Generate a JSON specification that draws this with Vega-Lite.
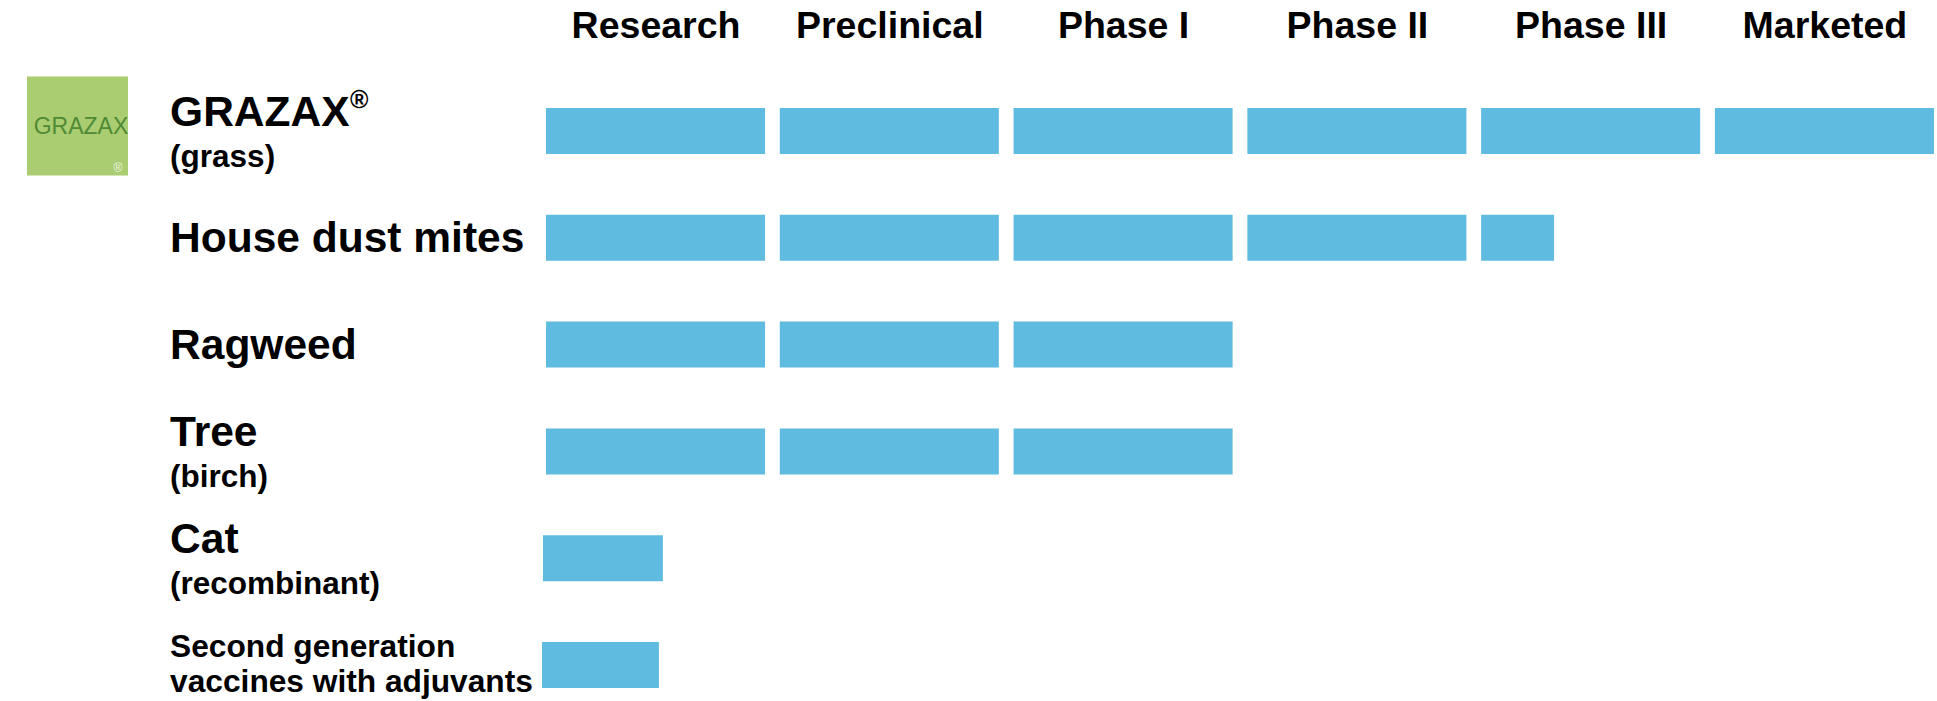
{
  "$schema": "https://vega.github.io/schema/vega-lite/v6.json",
  "width": 1391,
  "height": 534,
  "autosize": {"type": "none"},
  "padding": {"left": 546, "top": 131, "right": 0, "bottom": 36},
  "background": "white",
  "config": {"view": {"stroke": null}, "font": "Liberation Sans"},
  "datasets": {
    "segments": [
      {"product": "GRAZAX", "stage": "Research", "start": 0, "end": 0.937},
      {"product": "GRAZAX", "stage": "Preclinical", "start": 1, "end": 1.937},
      {"product": "GRAZAX", "stage": "Phase I", "start": 2, "end": 2.937},
      {"product": "GRAZAX", "stage": "Phase II", "start": 3, "end": 3.937},
      {"product": "GRAZAX", "stage": "Phase III", "start": 4, "end": 4.937},
      {"product": "GRAZAX", "stage": "Marketed", "start": 5, "end": 5.937},
      {"product": "House dust mites", "stage": "Research", "start": 0, "end": 0.937},
      {"product": "House dust mites", "stage": "Preclinical", "start": 1, "end": 1.937},
      {"product": "House dust mites", "stage": "Phase I", "start": 2, "end": 2.937},
      {"product": "House dust mites", "stage": "Phase II", "start": 3, "end": 3.937},
      {"product": "House dust mites", "stage": "Phase III", "start": 4, "end": 4.312},
      {"product": "Ragweed", "stage": "Research", "start": 0, "end": 0.937},
      {"product": "Ragweed", "stage": "Preclinical", "start": 1, "end": 1.937},
      {"product": "Ragweed", "stage": "Phase I", "start": 2, "end": 2.937},
      {"product": "Tree", "stage": "Research", "start": 0, "end": 0.937},
      {"product": "Tree", "stage": "Preclinical", "start": 1, "end": 1.937},
      {"product": "Tree", "stage": "Phase I", "start": 2, "end": 2.937},
      {"product": "Cat", "stage": "Research", "start": -0.013, "end": 0.5},
      {"product": "Second generation", "stage": "Research", "start": -0.017, "end": 0.483}
    ],
    "products": [
      {"product": "GRAZAX", "kind": "double", "main": "GRAZAX", "sub": "(grass)"},
      {"product": "House dust mites", "kind": "single", "main": "House dust mites", "sub": ""},
      {"product": "Ragweed", "kind": "single", "main": "Ragweed", "sub": ""},
      {"product": "Tree", "kind": "double", "main": "Tree", "sub": "(birch)"},
      {"product": "Cat", "kind": "double", "main": "Cat", "sub": "(recombinant)"},
      {"product": "Second generation", "kind": "stack", "main": "Second generation", "sub": "vaccines with adjuvants"}
    ]
  },
  "layer": [
    {
      "data": {"name": "segments"},
      "mark": {"type": "bar", "color": "#60bbe0", "size": 46},
      "encoding": {
        "x": {
          "field": "start",
          "type": "quantitative",
          "scale": {"domain": [0, 5.95], "nice": false, "zero": false},
          "axis": {
            "orient": "top",
            "title": null,
            "values": [0.4685, 1.4685, 2.4685, 3.4685, 4.4685, 5.4685],
            "labelExpr": "['Research','Preclinical','Phase I','Phase II','Phase III','Marketed'][floor(datum.value)]",
            "labelFont": "Liberation Sans",
            "labelFontSize": 37.5,
            "labelFontWeight": "bold",
            "labelColor": "black",
            "labelPadding": 94,
            "labelBaseline": "alphabetic",
            "labelAlign": "center",
            "labelLimit": 0,
            "labelOverlap": false,
            "labelFlush": false,
            "labelBound": false,
            "ticks": false,
            "tickSize": 0,
            "domain": false,
            "grid": false
          }
        },
        "x2": {"field": "end"},
        "y": {
          "field": "product",
          "type": "nominal",
          "scale": {
            "type": "point",
            "padding": 0,
            "domain": ["GRAZAX", "House dust mites", "Ragweed", "Tree", "Cat", "Second generation"]
          },
          "axis": null
        }
      }
    },
    {
      "data": {"values": [{"logo": "GRAZAX"}]},
      "mark": {"type": "bar", "color": "#a9cd70", "size": 99, "yOffset": -5},
      "encoding": {
        "x": {"datum": -2.22, "type": "quantitative"},
        "x2": {"datum": -1.788},
        "y": {"datum": "GRAZAX", "type": "nominal"}
      }
    },
    {
      "data": {"values": [{"logo": "GRAZAX"}]},
      "mark": {"type": "text", "color": "#4f8a35", "fontSize": 23, "font": "Liberation Sans", "align": "center", "baseline": "alphabetic", "dy": 3},
      "encoding": {
        "x": {"datum": -1.989, "type": "quantitative"},
        "y": {"datum": "GRAZAX", "type": "nominal"},
        "text": {"field": "logo"}
      }
    },
    {
      "data": {"values": [{"mark": "®"}]},
      "mark": {"type": "text", "color": "#eef4e2", "fontSize": 12, "font": "Liberation Sans", "align": "center", "baseline": "middle", "dy": 37},
      "encoding": {
        "x": {"datum": -1.831, "type": "quantitative"},
        "y": {"datum": "GRAZAX", "type": "nominal"},
        "text": {"field": "mark"}
      }
    },
    {
      "data": {"name": "products"},
      "transform": [{"filter": "datum.kind == 'single'"}],
      "mark": {"type": "text", "color": "black", "fontSize": 42.5, "fontWeight": "bold", "font": "Liberation Sans", "align": "left", "baseline": "alphabetic", "dy": 14},
      "encoding": {
        "x": {"datum": -1.608, "type": "quantitative"},
        "y": {"field": "product", "type": "nominal"},
        "text": {"field": "main"}
      }
    },
    {
      "data": {"name": "products"},
      "transform": [{"filter": "datum.kind == 'double'"}],
      "mark": {"type": "text", "color": "black", "fontSize": 42.5, "fontWeight": "bold", "font": "Liberation Sans", "align": "left", "baseline": "alphabetic", "dy": -5},
      "encoding": {
        "x": {"datum": -1.608, "type": "quantitative"},
        "y": {"field": "product", "type": "nominal"},
        "text": {"field": "main"}
      }
    },
    {
      "data": {"name": "products"},
      "transform": [{"filter": "datum.product == 'GRAZAX'"}],
      "mark": {"type": "text", "color": "black", "fontSize": 25, "fontWeight": "bold", "font": "Liberation Sans", "align": "left", "baseline": "alphabetic", "dy": -23, "dx": 180},
      "encoding": {
        "x": {"datum": -1.608, "type": "quantitative"},
        "y": {"field": "product", "type": "nominal"},
        "text": {"value": "®"}
      }
    },
    {
      "data": {"name": "products"},
      "transform": [{"filter": "datum.kind == 'double'"}],
      "mark": {"type": "text", "color": "black", "fontSize": 31.5, "fontWeight": "bold", "font": "Liberation Sans", "align": "left", "baseline": "alphabetic", "dy": 36},
      "encoding": {
        "x": {"datum": -1.608, "type": "quantitative"},
        "y": {"field": "product", "type": "nominal"},
        "text": {"field": "sub"}
      }
    },
    {
      "data": {"name": "products"},
      "transform": [{"filter": "datum.kind == 'stack'"}],
      "mark": {"type": "text", "color": "black", "fontSize": 31.7, "fontWeight": "bold", "font": "Liberation Sans", "align": "left", "baseline": "alphabetic", "dy": -8},
      "encoding": {
        "x": {"datum": -1.608, "type": "quantitative"},
        "y": {"field": "product", "type": "nominal"},
        "text": {"field": "main"}
      }
    },
    {
      "data": {"name": "products"},
      "transform": [{"filter": "datum.kind == 'stack'"}],
      "mark": {"type": "text", "color": "black", "fontSize": 31.7, "fontWeight": "bold", "font": "Liberation Sans", "align": "left", "baseline": "alphabetic", "dy": 27},
      "encoding": {
        "x": {"datum": -1.608, "type": "quantitative"},
        "y": {"field": "product", "type": "nominal"},
        "text": {"field": "sub"}
      }
    }
  ]
}
